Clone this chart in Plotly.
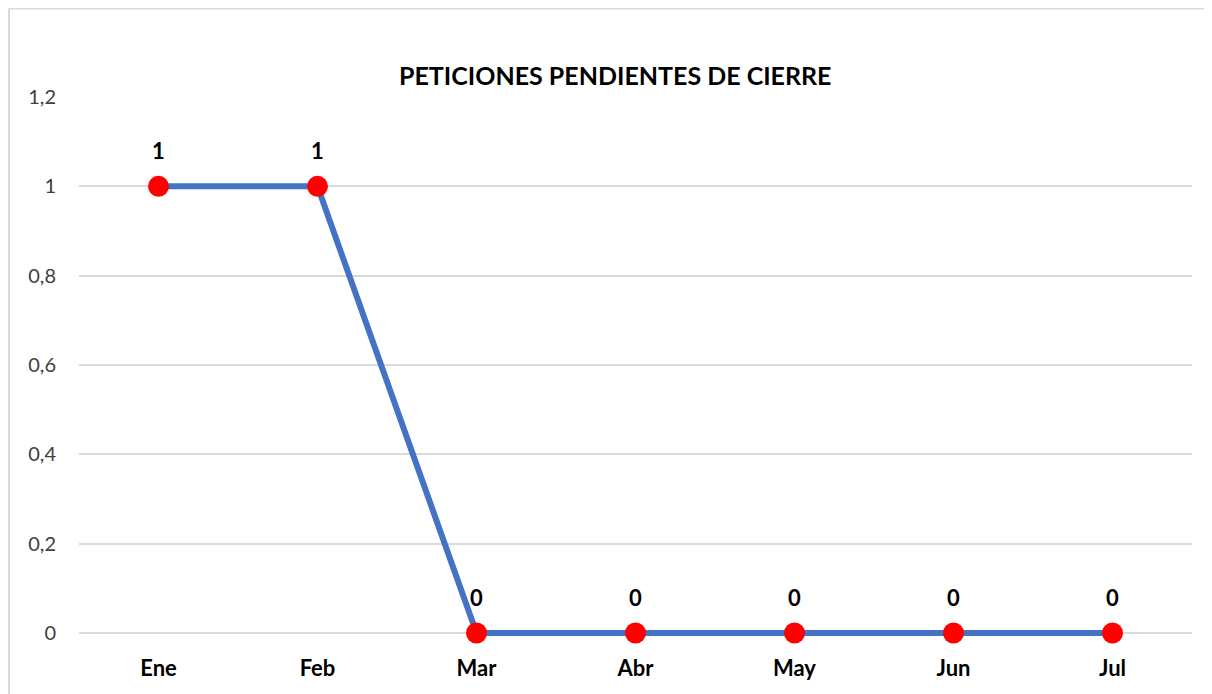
import plotly.graph_objects as go

months = ["Ene", "Feb", "Mar", "Abr", "May", "Jun", "Jul"]
pendientes = [1, 1, 0, 0, 0, 0, 0]
y_ticks = [0, 0.2, 0.4, 0.6, 0.8, 1, 1.2]
title_text = "PETICIONES PENDIENTES DE CIERRE"

FONT = "Lato, Open Sans, sans-serif"

fig = go.Figure()
fig.add_trace(go.Scatter(
    x=months, y=pendientes, mode="lines+markers",
    line=dict(color="#4472C4", width=6),
    marker=dict(color="#FF0000", size=21),
    cliponaxis=False,
    showlegend=False, hoverinfo="skip",
))

for m, v in zip(months, pendientes):
    fig.add_annotation(x=m, y=v, text=f"<b>{v}</b>", showarrow=False,
                       yshift=36, font=dict(family=FONT, size=22, color="#000000"))

fig.add_annotation(xref="paper", yref="paper", x=0.4816, y=1.041, xanchor="center", yanchor="middle",
                   text=f"<b>{title_text}</b>", showarrow=False,
                   font=dict(family=FONT, size=25, color="#000000"))

# outer chart frame (top and left edges visible)
fig.add_shape(type="line", xref="paper", yref="paper", x0=-0.0629, x1=1.05, y0=1.1642, y1=1.1642,
              line=dict(color="#D9D9D9", width=2))
fig.add_shape(type="line", xref="paper", yref="paper", x0=-0.0629, x1=-0.0629, y0=-0.2, y1=1.1642,
              line=dict(color="#D9D9D9", width=2))

fig.update_layout(
    width=1204, height=686,
    margin=dict(l=71, r=20, t=89, b=58),
    paper_bgcolor="white", plot_bgcolor="white",
    separators=",.",
    font=dict(family=FONT, size=20, color="#404040"),
    xaxis=dict(type="category", range=[-0.5, 6.5], showgrid=False, zeroline=False,
               showline=False, ticks="", ticklabelstandoff=17,
               tickfont=dict(family=FONT, size=22, color="#000000"),
               tickvals=months, ticktext=[f"<b>{m}</b>" for m in months]),
    yaxis=dict(range=[-0.0067, 1.2], tickvals=y_ticks, showgrid=True, gridcolor="#D9D9D9", gridwidth=2,
               zeroline=False, showline=False, ticks="", ticklabelstandoff=22,
               tickfont=dict(family=FONT, size=20, color="#404040")),
)

fig.write_html("out.html")
